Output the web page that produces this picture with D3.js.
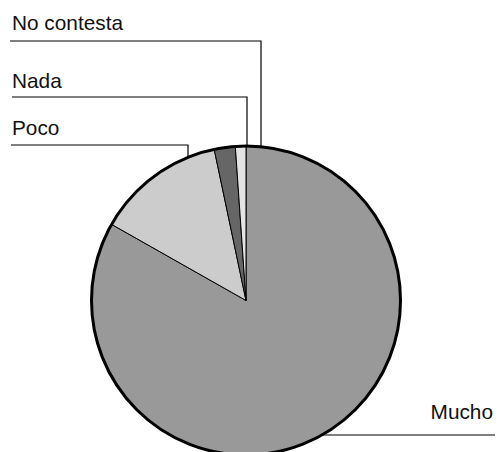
<!DOCTYPE html>
<html>
<head>
<meta charset="utf-8">
<script src="https://cdn.jsdelivr.net/npm/d3@7/dist/d3.min.js"></script>
<style>
  html, body { margin: 0; padding: 0; background: #fff; }
  svg { display: block; }
  text { font-family: "Liberation Sans", Arial, sans-serif; font-size: 20.8px; fill: #111; }
</style>
</head>
<body>
<svg id="chart" width="497" height="452"></svg>
<script>
// Survey answers, listed clockwise from 12 o'clock
const categories = ["Mucho", "Poco", "Nada", "No contesta"];
const shares = [83.2, 13.5, 2.2, 1.1];
const fills = ["#999999", "#cccccc", "#666666", "#e4e4e4"];

const width = 497, height = 452;
const cx = 246, cy = 300.5, r = 154.5;

const svg = d3.select("#chart");
const g = svg.append("g").attr("transform", `translate(${cx},${cy})`);

const pie = d3.pie().sort(null).value(d => d.v);
const arcs = pie(categories.map((c, i) => ({ c, v: shares[i], f: fills[i] })));
const arc = d3.arc().innerRadius(0).outerRadius(r);

g.selectAll("path.slice")
  .data(arcs)
  .join("path")
  .attr("class", "slice")
  .attr("d", arc)
  .attr("fill", d => d.data.f)
  .attr("stroke", "#000")
  .attr("stroke-width", 1)
  .attr("stroke-linejoin", "miter");

// heavier rim around the whole pie
g.append("circle")
  .attr("r", r)
  .attr("fill", "none")
  .attr("stroke", "#000")
  .attr("stroke-width", 3);

// Label callouts: text on the left or right, elbow line down to the rim
const callouts = {
  "No contesta": { side: "left", tx: 12, ty: 30, ly: 41, lx0: 10, ex: 261 },
  "Nada":        { side: "left", tx: 12, ty: 88, ly: 97, lx0: 12, ex: 247 },
  "Poco":        { side: "left", tx: 12, ty: 135, ly: 145, lx0: 11, ex: 188 },
  "Mucho":       { side: "right", tx: 493, ty: 419, ly: 435, lx1: 495 }
};

const rimY = x => cy - Math.sqrt(r * r - (x - cx) * (x - cx));
const rimXLow = y => cx + Math.sqrt(r * r - (y - cy) * (y - cy));

categories.forEach(c => {
  const o = callouts[c];
  let pts;
  if (o.side === "left") {
    pts = [[o.lx0, o.ly], [o.ex, o.ly], [o.ex, rimY(o.ex)]];
  } else {
    pts = [[rimXLow(o.ly), o.ly], [o.lx1, o.ly]];
  }
  svg.append("path")
    .attr("d", d3.line()(pts))
    .attr("fill", "none")
    .attr("stroke", "#000")
    .attr("stroke-width", 1.2);
  svg.append("text")
    .attr("x", o.tx)
    .attr("y", o.ty)
    .attr("text-anchor", o.side === "left" ? "start" : "end")
    .text(c);
});
</script>
</body>
</html>
